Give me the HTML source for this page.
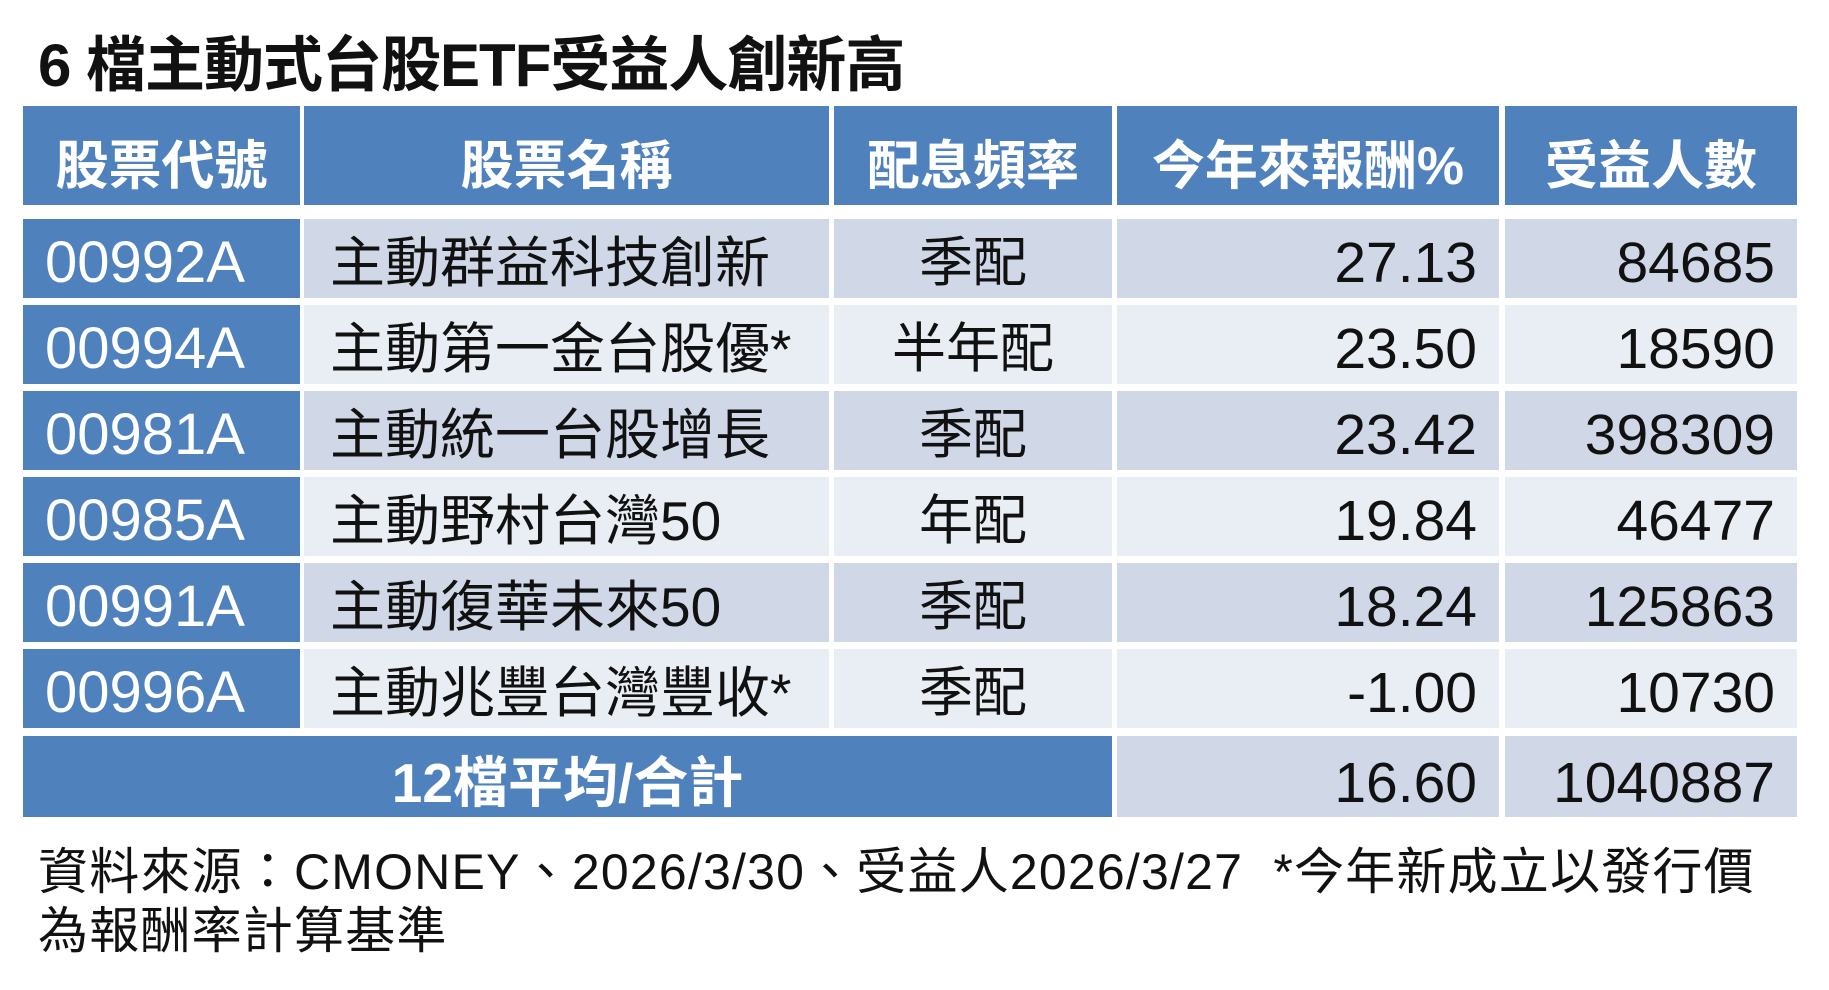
<!DOCTYPE html>
<html><head><meta charset="utf-8"><style>
body{margin:0;width:1829px;height:990px;background:#fff;position:relative;overflow:hidden;font-family:"Liberation Sans","Noto Sans CJK TC",sans-serif;}
.t{position:absolute;left:38px;top:17px;font-size:60px;font-weight:bold;color:#111;white-space:nowrap;letter-spacing:-1px}
.c{position:absolute;box-sizing:border-box;white-space:nowrap;color:#111;font-size:56px;line-height:70px;padding-top:9px;overflow:hidden}
.h{background:#4f81bd;color:#fff;font-weight:bold;font-size:53px;text-align:center;line-height:90px;padding-top:16px}
.b{background:#4f81bd;color:#fff;padding-left:22px;font-size:58px}
.o{background:#d0d8e8}.e{background:#e9edf4}
.n{padding-left:26px;font-size:55px}
.m{text-align:center;font-size:54px}
.r{text-align:right;padding-right:22px;font-size:57px}
.f{position:absolute;left:38px;font-size:50px;color:#111;white-space:nowrap;letter-spacing:1.2px}
</style></head><body>
<div class="t">6 檔主動式台股ETF受益人創新高</div>
<div class="c h" style="left:23px;top:106px;width:277px;height:99px">股票代號</div>
<div class="c h" style="left:304px;top:106px;width:525px;height:99px">股票名稱</div>
<div class="c h" style="left:834px;top:106px;width:278px;height:99px">配息頻率</div>
<div class="c h" style="left:1117px;top:106px;width:382px;height:99px">今年來報酬%</div>
<div class="c h" style="left:1505px;top:106px;width:292px;height:99px">受益人數</div>

<div class="c b" style="left:23px;top:219px;width:277px;height:79px">00992A</div>
<div class="c o n" style="left:304px;top:219px;width:525px;height:79px">主動群益科技創新</div>
<div class="c o m" style="left:834px;top:219px;width:278px;height:79px">季配</div>
<div class="c o r" style="left:1117px;top:219px;width:382px;height:79px">27.13</div>
<div class="c o r" style="left:1505px;top:219px;width:292px;height:79px">84685</div>

<div class="c b" style="left:23px;top:305px;width:277px;height:79px">00994A</div>
<div class="c e n" style="left:304px;top:305px;width:525px;height:79px">主動第一金台股優*</div>
<div class="c e m" style="left:834px;top:305px;width:278px;height:79px">半年配</div>
<div class="c e r" style="left:1117px;top:305px;width:382px;height:79px">23.50</div>
<div class="c e r" style="left:1505px;top:305px;width:292px;height:79px">18590</div>

<div class="c b" style="left:23px;top:391px;width:277px;height:79px">00981A</div>
<div class="c o n" style="left:304px;top:391px;width:525px;height:79px">主動統一台股增長</div>
<div class="c o m" style="left:834px;top:391px;width:278px;height:79px">季配</div>
<div class="c o r" style="left:1117px;top:391px;width:382px;height:79px">23.42</div>
<div class="c o r" style="left:1505px;top:391px;width:292px;height:79px">398309</div>

<div class="c b" style="left:23px;top:477px;width:277px;height:79px">00985A</div>
<div class="c e n" style="left:304px;top:477px;width:525px;height:79px">主動野村台灣50</div>
<div class="c e m" style="left:834px;top:477px;width:278px;height:79px">年配</div>
<div class="c e r" style="left:1117px;top:477px;width:382px;height:79px">19.84</div>
<div class="c e r" style="left:1505px;top:477px;width:292px;height:79px">46477</div>

<div class="c b" style="left:23px;top:563px;width:277px;height:79px">00991A</div>
<div class="c o n" style="left:304px;top:563px;width:525px;height:79px">主動復華未來50</div>
<div class="c o m" style="left:834px;top:563px;width:278px;height:79px">季配</div>
<div class="c o r" style="left:1117px;top:563px;width:382px;height:79px">18.24</div>
<div class="c o r" style="left:1505px;top:563px;width:292px;height:79px">125863</div>

<div class="c b" style="left:23px;top:649px;width:277px;height:79px">00996A</div>
<div class="c e n" style="left:304px;top:649px;width:525px;height:79px">主動兆豐台灣豐收*</div>
<div class="c e m" style="left:834px;top:649px;width:278px;height:79px">季配</div>
<div class="c e r" style="left:1117px;top:649px;width:382px;height:79px">-1.00</div>
<div class="c e r" style="left:1505px;top:649px;width:292px;height:79px">10730</div>

<div class="c b" style="left:23px;top:736px;width:1089px;height:81px;text-align:center;padding-left:0;font-weight:bold;font-size:55px;padding-top:12px">12檔平均/合計</div>
<div class="c o r" style="left:1117px;top:736px;width:382px;height:81px;padding-top:12px">16.60</div>
<div class="c o r" style="left:1505px;top:736px;width:292px;height:81px;padding-top:12px">1040887</div>

<div class="f" style="top:832px">資料來源：CMONEY、2026/3/30、受益人2026/3/27&nbsp; *今年新成立以發行價</div>
<div class="f" style="top:891px">為報酬率計算基準</div>
</body></html>
